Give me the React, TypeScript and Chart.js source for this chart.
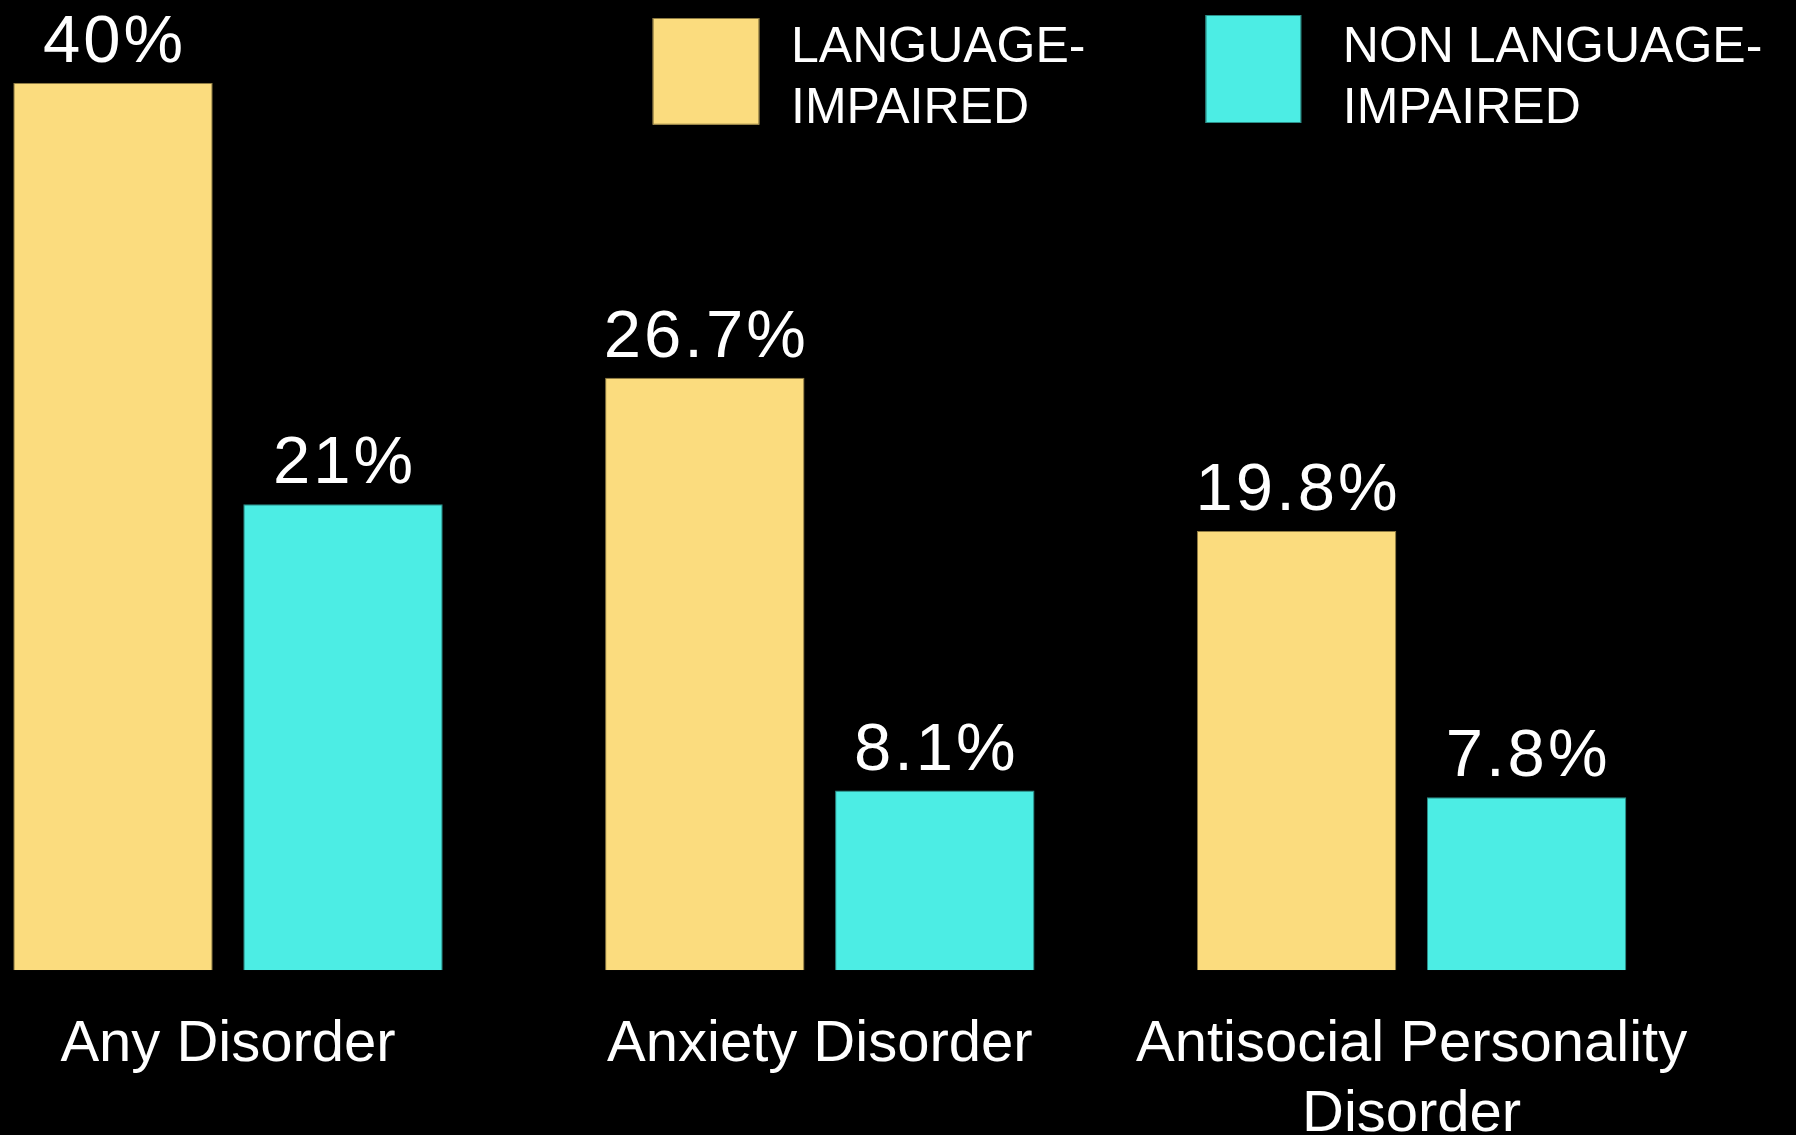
import { useEffect, useRef } from "react";
import { Chart, registerables } from "chart.js";

Chart.register(...registerables);

// ---- data ----
const categories: string[][] = [
  ["Any Disorder"],
  ["Anxiety Disorder"],
  ["Antisocial Personality", "Disorder"],
];
const languageImpaired: number[] = [40, 26.7, 19.8];
const nonLanguageImpaired: number[] = [21, 8.1, 7.8];
const seriesLabels: string[][] = [
  ["LANGUAGE-", "IMPAIRED"],
  ["NON LANGUAGE-", "IMPAIRED"],
];
const yMin = 0;
const yMax = 40;

// ---- styles ----
const FONT = '"Liberation Sans", Arial, Helvetica, sans-serif';
const YELLOW = "#FBDC7E";
const CYAN = "#4CEDE4";
const SHIFT = 100; // canvas is shifted left so the first group sits near the edge
const CW = 1900;
const CH = 1135;

export default function App() {
  const ref = useRef<HTMLCanvasElement | null>(null);

  useEffect(() => {
    if (!ref.current) return;

    const valueLabels = {
      id: "valueLabels",
      afterDatasetsDraw(chart: any) {
        const ctx = chart.ctx;
        ctx.save();
        ctx.font = `67px ${FONT}`;
        try {
          (ctx as any).letterSpacing = "3px";
        } catch (e) {
          /* ignore */
        }
        ctx.fillStyle = "#ffffff";
        ctx.textAlign = "center";
        ctx.textBaseline = "alphabetic";
        chart.data.datasets.forEach((ds: any, i: number) => {
          const meta = chart.getDatasetMeta(i);
          meta.data.forEach((bar: any, j: number) => {
            ctx.fillText(`${ds.data[j]}%`, bar.x + 1.5, bar.y - 21);
          });
        });
        ctx.restore();
      },
    };

    const legendBoxes = [
      { x: 652.7, y: 18, w: 106.6, h: 106.7, tx: 791 },
      { x: 1205.6, y: 15, w: 95.6, h: 108, tx: 1342.8 },
    ];
    const customLegend = {
      id: "customLegend",
      afterDraw(chart: any) {
        const ctx = chart.ctx;
        ctx.save();
        chart.data.datasets.forEach((ds: any, i: number) => {
          const b = legendBoxes[i];
          ctx.fillStyle = ds.backgroundColor;
          ctx.fillRect(b.x + SHIFT, b.y, b.w, b.h);
          ctx.strokeStyle = ds.borderColor;
          ctx.lineWidth = 1;
          ctx.strokeRect(b.x + SHIFT + 0.5, b.y + 0.5, b.w - 1, b.h - 1);
          ctx.fillStyle = "#ffffff";
          ctx.font = `50px ${FONT}`;
          ctx.textAlign = "left";
          ctx.textBaseline = "alphabetic";
          (ds.legendLines as string[]).forEach((line, k) => {
            ctx.fillText(line, b.tx + SHIFT, 61.7 + k * 61);
          });
        });
        ctx.restore();
      },
    };

    const chart = new Chart(ref.current, {
      type: "bar",
      data: {
        labels: categories,
        datasets: [
          {
            label: seriesLabels[0].join(" "),
            legendLines: seriesLabels[0],
            data: languageImpaired,
            backgroundColor: YELLOW,
            borderColor: "#8f7c43",
            borderWidth: 1,
            barPercentage: 0.867,
            categoryPercentage: 0.7773,
          } as any,
          {
            label: seriesLabels[1].join(" "),
            legendLines: seriesLabels[1],
            data: nonLanguageImpaired,
            backgroundColor: CYAN,
            borderColor: "#2c8f89",
            borderWidth: 1,
            barPercentage: 0.867,
            categoryPercentage: 0.7773,
          } as any,
        ],
      },
      options: {
        responsive: false,
        animation: false,
        devicePixelRatio: 1,
        layout: { padding: { left: 32.1, right: 92.5, top: 82.7, bottom: 0 } },
        plugins: {
          legend: { display: false },
          tooltip: { enabled: false },
          title: { display: false },
        },
        scales: {
          x: {
            grid: { display: false, drawTicks: false },
            border: { display: false },
            ticks: {
              color: "#ffffff",
              font: { family: FONT, size: 58, lineHeight: 1.2 },
              padding: 40,
              maxRotation: 0,
              autoSkip: false,
            },
            afterFit: (scale: any) => {
              scale.height = 164.7;
            },
          },
          y: {
            display: false,
            min: yMin,
            max: yMax,
          },
        },
      },
      plugins: [valueLabels, customLegend],
    });

    return () => chart.destroy();
  }, []);

  return (
    <div
      style={{
        position: "fixed",
        left: 0,
        top: 0,
        width: 1796,
        height: 1135,
        background: "#000000",
        overflow: "hidden",
      }}
    >
      <canvas
        ref={ref}
        width={CW}
        height={CH}
        style={{ position: "absolute", left: -SHIFT, top: 0, width: CW, height: CH }}
      />
    </div>
  );
}
